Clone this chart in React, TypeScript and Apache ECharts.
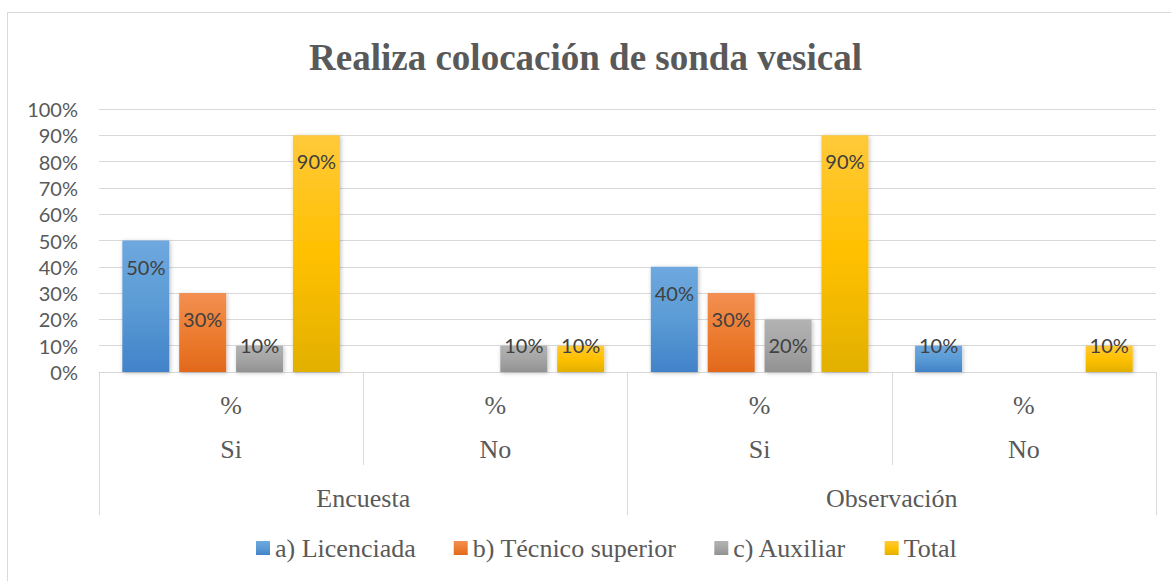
import React, { useEffect, useRef } from "react";
import * as echarts from "echarts";

const titleText = "Realiza colocación de sonda vesical";
const subCategories = ["Si", "No", "Si", "No"];
const subPrefix = "%";
const groupCategories = ["Encuesta", "Observación"];
const seriesNames = ["a) Licenciada", "b) Técnico superior", "c) Auxiliar", "Total"];
const licenciada = [0.5, null, 0.4, 0.1];
const tecnico = [0.3, null, 0.3, null];
const auxiliar = [0.1, 0.1, 0.2, null];
const total = [0.9, 0.1, 0.9, 0.1];
const yTicks = [0, 0.1, 0.2, 0.3, 0.4, 0.5, 0.6, 0.7, 0.8, 0.9, 1];

const gradients = [
  ["#6ea8de", "#5b9bd5", "#4282c9"],
  ["#f28f52", "#ed7d31", "#e2691c"],
  ["#b3b3b3", "#a5a5a5", "#929292"],
  ["#ffc93a", "#ffc000", "#e2b000"],
];

const serif = "Liberation Serif";
const sans = "Lato";

export default function App() {
  const ref = useRef<HTMLDivElement>(null);
  useEffect(() => {
    if (!ref.current) return;
    const chart = echarts.init(ref.current, undefined, { renderer: "svg" });
    const all = [licenciada, tecnico, auxiliar, total];
    const series = all.map((vals, i) => ({
      name: seriesNames[i],
      type: "bar",
      xAxisIndex: 0,
      barWidth: 47,
      barGap: "21%",
      itemStyle: {
        color: new echarts.graphic.LinearGradient(0, 0, 0, 1, [
          { offset: 0, color: gradients[i][0] },
          { offset: 0.5, color: gradients[i][1] },
          { offset: 1, color: gradients[i][2] },
        ]),
        shadowBlur: 4,
        shadowColor: "rgba(0,0,0,0.25)",
        shadowOffsetX: 1,
        shadowOffsetY: 1,
      },
      data: vals.map((v) =>
        v == null
          ? null
          : {
              value: v,
              label:
                v <= 0.1
                  ? { position: "insideBottom", distance: 17 }
                  : { position: "insideTop", distance: 16 },
            }
      ),
      label: {
        show: true,
        formatter: (p: any) => Math.round(p.value * 100) + "%",
        fontFamily: sans,
        fontSize: 20,
        color: "#404040",
      },
    }));
    chart.setOption({
      animation: false,
      backgroundColor: "#ffffff",
      title: {
        text: titleText,
        left: "center",
        top: 34,
        textStyle: {
          fontFamily: serif,
          fontWeight: "bold",
          fontSize: 37,
          color: "#595959",
        },
      },
      legend: {
        bottom: 15,
        left: 251,
        itemWidth: 14,
        itemHeight: 14,
        itemGap: 38,
        icon: "rect",
        textStyle: { fontFamily: serif, fontSize: 26, color: "#595959" },
        data: seriesNames,
      },
      grid: { left: 99, right: 15, top: 109, bottom: 209, containLabel: false },
      xAxis: [
        {
          type: "category",
          data: subCategories,
          position: "bottom",
          axisLine: { show: true, lineStyle: { color: "#d9d9d9", width: 1 } },
          axisTick: { show: true, length: 93, interval: 0, lineStyle: { color: "#d9d9d9" } },
          axisLabel: {
            interval: 0,
            margin: 11,
            formatter: (v: string) => subPrefix + "\n" + v,
            fontFamily: serif,
            fontSize: 26,
            lineHeight: 44,
            color: "#595959",
          },
        },
        {
          type: "category",
          data: groupCategories,
          position: "bottom",
          axisLine: { show: false },
          axisTick: { show: true, length: 143, interval: 0, lineStyle: { color: "#d9d9d9" } },
          axisLabel: {
            interval: 0,
            margin: 111,
            fontFamily: serif,
            fontSize: 26,
            lineHeight: 30,
            color: "#595959",
          },
        },
      ],
      yAxis: {
        type: "value",
        min: yTicks[0],
        max: yTicks[yTicks.length - 1],
        interval: 0.1,
        axisLine: { show: false },
        axisTick: { show: false },
        splitLine: { lineStyle: { color: "#d9d9d9", width: 1 } },
        axisLabel: {
          margin: 21,
          formatter: (v: number) => Math.round(v * 100) + "%",
          fontFamily: sans,
          fontSize: 20,
          color: "#595959",
        },
      },
      series,
    });
    return () => chart.dispose();
  }, []);
  return (
    <div style={{ position: "fixed", left: 0, top: 0, width: 1171, height: 581, background: "#fff" }}>
      <div ref={ref} style={{ position: "absolute", left: 0, top: 0, width: 1171, height: 581 }} />
      <div
        style={{
          position: "absolute",
          left: 7,
          top: 12,
          width: 1200,
          height: 600,
          border: "1.5px solid #d9d9d9",
          pointerEvents: "none",
        }}
      />
    </div>
  );
}
